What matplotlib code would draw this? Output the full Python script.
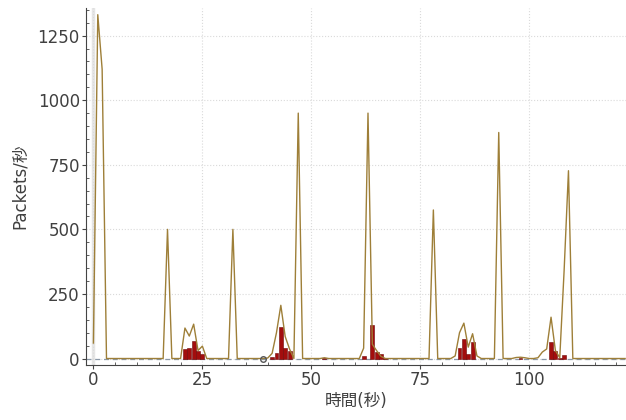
import matplotlib
matplotlib.use("Agg")
from matplotlib import pyplot as plt
from matplotlib.ticker import MultipleLocator

plt.rcParams['font.family'] = ['DejaVu Sans', 'Noto Sans CJK JP']

# all packets per second (line)
pkt_time = [0, 1, 2, 3, 16, 17, 18, 20, 21, 22, 23, 24, 25, 26, 31, 32, 33,
            39, 40, 41, 42, 43, 44, 45, 46, 47, 48, 52, 53, 54,
            61, 62, 63, 64, 65, 66, 67, 77, 78, 79,
            82, 83, 84, 85, 86, 87, 88, 89, 92, 93, 94,
            96, 97, 98, 99, 100, 101, 102, 103, 104, 105, 106, 107, 108, 109, 110, 122]
pkt_rate = [60, 1331, 1120, 0, 0, 500, 0, 0, 118, 87, 133, 31, 48, 0, 0, 500, 0,
            0, 2, 20, 100, 206, 85, 37, 0, 950, 0, 0, 3, 0,
            0, 40, 950, 55, 30, 8, 0, 0, 575, 0,
            0, 10, 100, 137, 44, 96, 10, 0, 0, 875, 0,
            0, 4, 5, 3, 0, 0, 3, 25, 37, 160, 31, 3, 340, 727, 0, 0]

# filtered packets per second (bars)
bar_time = [21, 22, 23, 24, 25, 41, 42, 43, 44, 45, 53,
            62, 64, 65, 66, 67, 84, 85, 86, 87, 98, 105, 106, 107, 108]
bar_rate = [35, 40, 69, 31, 16, 5, 22, 122, 41, 31, 2,
            8, 128, 25, 16, 3, 41, 76, 16, 63, 2, 63, 28, 2, 14]

# event marker
mark_time = [39]
mark_rate = [0]

fig = plt.figure(figsize=(6.26, 4.2), dpi=100)
ax = fig.add_axes([0.1374, 0.131, 0.8626, 0.85])

ax.axvline(0, color='#e6e6e6', lw=2.5, zorder=0)
ax.axhline(0, color='#8a98a8', lw=0.9, ls=(0, (4, 3)), zorder=1)

ax.bar(bar_time, bar_rate, width=0.9, color='#a30d0d', edgecolor='#6e0606',
       linewidth=0.4, zorder=2)
ax.plot(pkt_time, pkt_rate, color='#9e7f38', lw=1.0, zorder=3)
ax.plot(mark_time, mark_rate, 'o', ms=4, mfc='none', mec='#555555', mew=1.0, zorder=4)

ax.set_xlim(-1.7, 122.2)
ax.set_ylim(-25, 1357)
ax.xaxis.set_major_locator(MultipleLocator(25))
ax.xaxis.set_minor_locator(MultipleLocator(5))
ax.yaxis.set_major_locator(MultipleLocator(250))
ax.yaxis.set_minor_locator(MultipleLocator(50))

ax.grid(True, which='major', color='#dadada', ls=':', lw=0.8)
ax.set_axisbelow(True)

for side in ['top', 'right']:
    ax.spines[side].set_visible(False)
for side in ['left', 'bottom']:
    ax.spines[side].set_color('#444444')

ax.tick_params(which='major', direction='out', length=3, pad=1.5, color='#444444',
               labelsize=12, labelcolor='#404040')
ax.tick_params(which='minor', direction='in', length=2.5, color='#444444')

ax.set_xlabel('時間(秒)', fontsize=12, color='#404040', labelpad=2)
ax.set_ylabel('Packets/秒', fontsize=12, color='#404040', labelpad=6)

fig.savefig('out.png', dpi=100)
